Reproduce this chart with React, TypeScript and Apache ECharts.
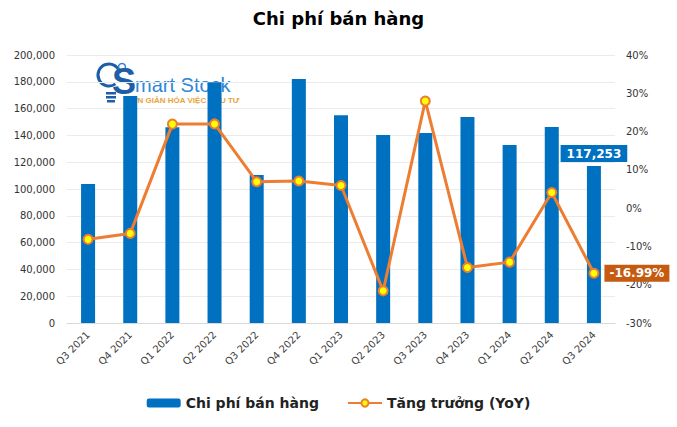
import React, { useEffect, useRef } from "react";
import * as echarts from "echarts";

const categories = [
  "Q3 2021", "Q4 2021", "Q1 2022", "Q2 2022", "Q3 2022", "Q4 2022", "Q1 2023",
  "Q2 2023", "Q3 2023", "Q4 2023", "Q1 2024", "Q2 2024", "Q3 2024",
];
const salesCost = [
  103700, 169400, 146000, 179600, 110400, 182000, 155000,
  140300, 141800, 153700, 132800, 146300, 117253,
];
const growthYoY = [
  -8.15, -6.6, 21.95, 22.0, 6.9, 7.1, 5.9, -21.6, 28.0, -15.5, -14.1, 4.1, -16.99,
];
const leftTicks = { min: 0, max: 200000, interval: 20000 };
const rightTicks = { min: -30, max: 40, interval: 10 };

const TITLE = "Chi phí bán hàng";
const BAR_NAME = "Chi phí bán hàng";
const LINE_NAME = "Tăng trưởng (YoY)";

const FONT = "'DejaVu Sans', Verdana, sans-serif";
const LOGO_FONT = "'Liberation Sans', Arial, sans-serif";

export default function App() {
  const ref = useRef<HTMLDivElement>(null);
  useEffect(() => {
    if (!ref.current) return;
    const chart = echarts.init(ref.current, undefined, { renderer: "svg" });
    const last = salesCost.length - 1;
    const barData = salesCost.map((v, i) =>
      i === last
        ? {
            value: v,
            label: {
              show: true,
              position: "top",
              distance: 4,
              formatter: (p: any) => Number(p.value).toLocaleString("en-US"),
              backgroundColor: "#0070C0",
              color: "#fff",
              fontWeight: "bold",
              fontSize: 12,
              fontFamily: FONT,
              padding: [3, 6, 2, 6],
            },
          }
        : v
    );
    const lineData = growthYoY.map((v, i) =>
      i === last
        ? {
            value: v,
            label: {
              show: true,
              position: "right",
              distance: 5,
              formatter: (p: any) => Number(p.value).toFixed(2) + "%",
              backgroundColor: "#C55A11",
              color: "#fff",
              fontWeight: "bold",
              fontSize: 12,
              fontFamily: FONT,
              padding: [3, 5, 2, 5],
            },
          }
        : v
    );
    chart.setOption({
      animation: false,
      backgroundColor: "#fff",
      title: {
        text: TITLE,
        left: "center",
        top: 4,
        textStyle: { fontFamily: FONT, fontSize: 18, fontWeight: "bold", color: "#000" },
      },
      grid: { left: 67, right: 62, top: 55, bottom: 104, containLabel: false },
      legend: {
        bottom: 12,
        left: "center",
        itemWidth: 34,
        itemHeight: 9,
        itemGap: 28,
        textStyle: { fontFamily: FONT, fontSize: 14, fontWeight: "bold", color: "#222" },
        data: [BAR_NAME, LINE_NAME],
      },
      graphic: [
        {
          type: "group",
          z: 0,
          zlevel: 0,
          children: [
            {
              type: "arc",
              z: 0,
              shape: { cx: 109, cy: 75, r: 11, startAngle: Math.PI * 0.3, endAngle: Math.PI * 1.95 },
              style: { stroke: "#1D5FA6", lineWidth: 3, fill: "none" },
            },
            { type: "rect", z: 0, shape: { x: 106, y: 92, width: 10, height: 2.5 }, style: { fill: "#1D5FA6" } },
            { type: "rect", z: 0, shape: { x: 106, y: 96, width: 10, height: 2.5 }, style: { fill: "#1D5FA6" } },
            { type: "rect", z: 0, shape: { x: 107, y: 100, width: 8, height: 2.5 }, style: { fill: "#1D5FA6" } },
            { type: "circle", z: 0, shape: { cx: 122, cy: 67, r: 3.5 }, style: { fill: "none", stroke: "#2F86D8", lineWidth: 1.5 } },
            {
              type: "text",
              z: 0,
              x: 112,
              y: 63,
              style: {
                text: "S",
                fontFamily: LOGO_FONT,
                fontSize: 36,
                fontWeight: "bold",
                fill: "#1D5FA6",
              },
            },
            {
              type: "text",
              z: 0,
              x: 135,
              y: 75,
              style: {
                text: "mart Stock",
                fontFamily: LOGO_FONT,
                fontSize: 20,
                fill: "#2F86D8",
              },
            },
            {
              type: "text",
              z: 0,
              x: 125,
              y: 96,
              style: {
                text: "ĐƠN GIẢN HÓA VIỆC ĐẦU TƯ",
                fontFamily: LOGO_FONT,
                fontSize: 8,
                fontWeight: "bold",
                fill: "#E8A33A",
              },
            },
          ],
        },
      ],
      xAxis: {
        type: "category",
        data: categories,
        axisLine: { lineStyle: { color: "#D9D9D9" } },
        axisTick: { show: false },
        axisLabel: {
          rotate: 45,
          fontFamily: FONT,
          fontSize: 10,
          color: "#404040",
          margin: 10,
          interval: 0,
        },
      },
      yAxis: [
        {
          type: "value",
          min: leftTicks.min,
          max: leftTicks.max,
          interval: leftTicks.interval,
          axisLine: { show: false },
          axisTick: { show: false },
          splitLine: { lineStyle: { color: "#EBEBEB" } },
          axisLabel: {
            fontFamily: FONT,
            fontSize: 10,
            color: "#333",
            margin: 12,
            formatter: (v: number) => v.toLocaleString("en-US"),
          },
        },
        {
          type: "value",
          min: rightTicks.min,
          max: rightTicks.max,
          interval: rightTicks.interval,
          axisLine: { show: false },
          axisTick: { show: false },
          splitLine: { show: false },
          axisLabel: {
            fontFamily: FONT,
            fontSize: 10,
            color: "#333",
            margin: 11,
            formatter: (v: number) => `${v}%`,
          },
        },
      ],
      series: [
        {
          name: BAR_NAME,
          type: "bar",
          yAxisIndex: 0,
          barWidth: 14,
          itemStyle: { color: "#0070C0" },
          data: barData,
          z: 2,
        },
        {
          name: LINE_NAME,
          type: "line",
          yAxisIndex: 1,
          symbol: "circle",
          symbolSize: 9,
          lineStyle: { color: "#ED7D31", width: 3 },
          itemStyle: { color: "#FFFF00", borderColor: "#ED7D31", borderWidth: 2 },
          data: lineData,
          z: 3,
        },
      ],
    });
    return () => chart.dispose();
  }, []);
  return <div ref={ref} style={{ width: 677, height: 427, position: "absolute", left: 0, top: 0 }} />;
}
